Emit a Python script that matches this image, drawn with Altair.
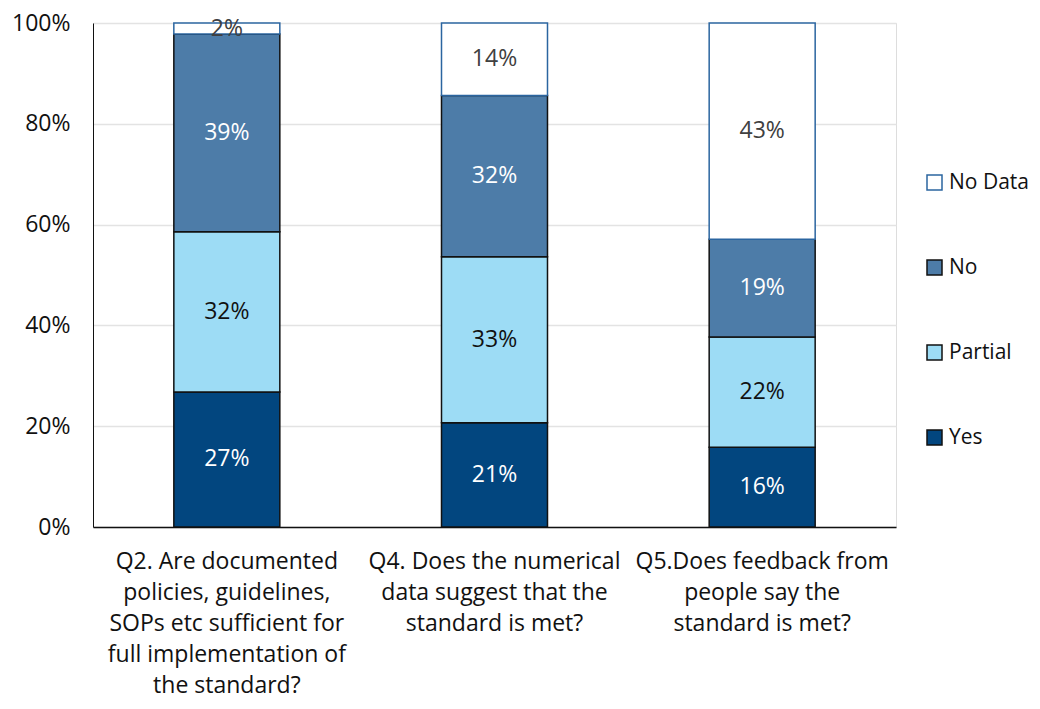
import altair as alt
import pandas as pd

categories = [
    "Q2. Are documented\npolicies, guidelines,\nSOPs etc sufficient for\nfull implementation of\nthe standard?",
    "Q4. Does the numerical\ndata suggest that the\nstandard is met?",
    "Q5.Does feedback from\npeople say the\nstandard is met?",
]
series = ["Yes", "Partial", "No", "No Data"]
yes = [0.268, 0.207, 0.158]
partial = [0.318, 0.329, 0.219]
no = [0.392, 0.320, 0.194]
no_data = [0.022, 0.144, 0.429]

values = {"Yes": yes, "Partial": partial, "No": no, "No Data": no_data}
rows = []
for si, s in enumerate(series):
    for ci, c in enumerate(categories):
        rows.append({"category": c, "series": s, "order": si, "value": values[s][ci]})
df = pd.DataFrame(rows)

legend_domain = ["No Data", "No", "Partial", "Yes"]
fill_range = ["#ffffff", "#4d7ca8", "#9ddcf5", "#02467f"]
stroke_range = ["#2b65a0", "#111111", "#111111", "#111111"]
text_range = ["#404040", "#ffffff", "#111111", "#ffffff"]

FONT = "Open Sans"
FS = 23

legend_cfg = dict(
    title=None, orient="none", legendX=831, legendY=149,
    direction="vertical", symbolType="square", symbolSize=225,
    symbolStrokeWidth=1.5, labelFont=FONT, labelFontSize=21,
    labelColor="#111111", labelOffset=4, rowPadding=63, padding=0,
    labelLimit=200,
)

base = alt.Chart(df).transform_stack(
    stack="value", as_=["y0", "y1"], groupby=["category"],
    sort=[alt.SortField("order", order="ascending")]
).transform_calculate(mid="(datum.y0 + datum.y1) / 2")

x_enc = alt.X(
    "category:N", sort=categories, title=None,
    scale=alt.Scale(paddingInner=0.604, paddingOuter=0.302),
    axis=alt.Axis(
        labelExpr="split(datum.label, '\\n')", labelAngle=0, ticks=False,
        labelFont=FONT, labelFontSize=FS, labelColor="#111111",
        labelLineHeight=31, labelPadding=23, labelOverlap=False,
        labelBound=False, domainColor="#111111", domainWidth=1.5,
        grid=False, labelLimit=400,
    ),
)

bars = base.mark_bar(strokeWidth=1.5).encode(
    x=x_enc,
    y=alt.Y(
        "y0:Q", title=None,
        scale=alt.Scale(domain=[0, 1], nice=False),
        axis=alt.Axis(
            values=[0, 0.2, 0.4, 0.6, 0.8, 1.0], format=".0%", ticks=False,
            labelFont=FONT, labelFontSize=FS, labelColor="#111111",
            labelPadding=23, domainColor="#111111", domainWidth=1,
            gridColor="#e3e3e3", gridWidth=1.5,
        ),
    ),
    y2="y1:Q",
    fill=alt.Fill(
        "series:N",
        scale=alt.Scale(domain=legend_domain, range=fill_range),
        legend=alt.Legend(**legend_cfg),
    ),
    stroke=alt.Stroke(
        "series:N",
        scale=alt.Scale(domain=legend_domain, range=stroke_range),
        legend=alt.Legend(**legend_cfg),
    ),
)

labels = base.mark_text(font=FONT, fontSize=FS, baseline="middle").encode(
    x=alt.X("category:N", sort=categories),
    y=alt.Y("mid:Q"),
    text=alt.Text("value:Q", format=".0%"),
    color=alt.Color(
        "series:N",
        scale=alt.Scale(domain=legend_domain, range=text_range),
        legend=None,
    ),
)

chart = (
    alt.layer(bars, labels)
    .resolve_scale(color="independent")
    .properties(
        width=803, height=504, autosize="none",
        padding={"left": 85, "top": 15, "right": 136, "bottom": 174},
    )
    .configure_view(stroke=None)
    .configure(background="white")
)

chart.save("out.html", embed_options={"renderer": "svg", "actions": False})
